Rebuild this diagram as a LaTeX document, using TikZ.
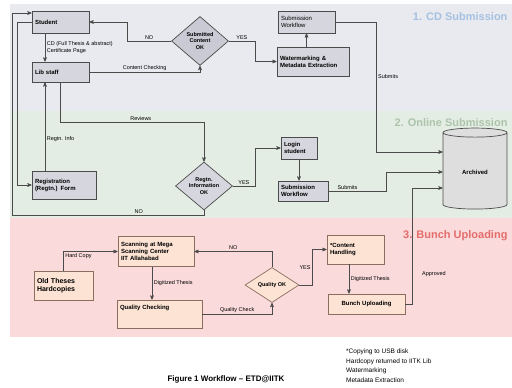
\documentclass[tikz,border=0pt]{standalone}
\usepackage{fontspec}
\setmainfont{Liberation Sans}
\usepackage{tikz}
\usetikzlibrary{arrows,shapes.geometric,positioning}
\definecolor{bandcd}{RGB}{233,234,239}
\definecolor{bandon}{RGB}{228,237,228}
\definecolor{bandbu}{RGB}{250,218,218}
\definecolor{greyfill}{RGB}{214,214,222}
\definecolor{diafill}{RGB}{202,202,212}
\definecolor{peachfill}{RGB}{252,227,212}
\definecolor{peachline}{RGB}{140,110,95}
\definecolor{cylfill}{RGB}{222,222,222}
\definecolor{lineclr}{RGB}{75,75,75}
\definecolor{titlecd}{RGB}{165,193,226}
\definecolor{titleon}{RGB}{172,196,172}
\definecolor{titlebu}{RGB}{228,108,108}
\tikzset{
	gbox/.style = {draw=lineclr, fill=greyfill, line width=.7pt, align=left,
		inner sep=3pt, font=\bfseries\fontsize{6}{7}\selectfont},
	pbox/.style = {gbox, fill=peachfill, draw=peachline},
	dia/.style = {diamond, draw=lineclr, fill=diafill, line width=.7pt,
		align=center, inner sep=0pt, font=\bfseries\fontsize{5.5}{6.5}\selectfont},
	archive/.style = {cylinder, shape border rotate=90, aspect=0.28,
		draw=lineclr, fill=cylfill, line width=.7pt, minimum width=64pt,
		minimum height=81pt, font=\bfseries\fontsize{6}{7}\selectfont},
	lbl/.style = {font=\fontsize{5.5}{6.5}\selectfont, inner sep=1.5pt},
	ttl/.style = {anchor=east, font=\bfseries\fontsize{11}{13}\selectfont},
	flowline/.style = {draw=lineclr, line width=.6pt}
}
\begin{document}
\begin{tikzpicture}[->,>=stealth',x=1pt,y=-1pt]
\useasboundingbox (0,0) rectangle (512,388);
\fill[bandcd] (10,4) rectangle (512,111);
\fill[bandon] (10,111) rectangle (512,218);
\fill[bandbu] (10,218) rectangle (512,337);
\node[ttl, titlecd] (cdtitle) at (511,17) {1. CD Submission};
\node[ttl, titleon] (ontitle) at (511,123) {2. Online Submission};
\node[ttl, titlebu] (butitle) at (511,236) {3. Bunch Uploading};

% 1. CD submission
\node[gbox, text width=51pt, minimum height=22pt] (student) at (60.5,22) {Student};
\node[gbox, text width=51pt, minimum height=20pt] (libstaff) at (60.5,72) {Lib staff};
\node[dia, minimum width=57pt, minimum height=49pt] (subok) at (200,41) {Submitted\\Content\\OK};
\node[gbox, text width=51pt, minimum height=22pt, font=\fontsize{6}{7}\selectfont] (subwf) at (306.5,22) {Submission\\Workflow};
\node[gbox, text width=66pt, minimum height=29pt] (water) at (313,61.5) {Watermarking \&\\Metadata Extraction};

% 2. online submission
\node[gbox, text width=58pt, minimum height=28pt] (regform) at (64,185) {Registration\\(Regtn.) Form};
\node[dia, fill=greyfill, minimum width=57pt, minimum height=48pt] (regok) at (204,186) {Regtn.\\Information\\OK};
\node[gbox, text width=30pt, minimum height=22pt] (login) at (299,148) {Login\\student};
\node[gbox, text width=44pt, minimum height=20pt] (onlinewf) at (303,191) {Submission\\Workflow};
\node[archive] (archived) at (475,172) {Archived};

% 3. bunch uploading
\node[pbox, text width=70pt, minimum height=30pt] (scan) at (156,251.5) {Scanning at Mega\\Scanning Center\\IIT Allahabad};
\node[pbox, text width=53pt, minimum height=29pt, font=\bfseries\fontsize{7}{8}\selectfont] (oldthes) at (63.5,285.5) {Old Theses\\Hardcopies};
\node[pbox, text width=79pt, minimum height=28pt, text depth=13pt] (qcheck) at (159.5,314) {Quality Checking};
\node[dia, fill=peachfill, draw=peachline, aspect=1.8, minimum width=54pt, minimum height=35pt] (qok) at (272,285) {Quality OK};
\node[pbox, text width=51pt, minimum height=29pt] (content) at (355.5,249.5) {*Content\\Handling};
\node[pbox, text width=71pt, minimum height=20pt, align=center] (bunch) at (366.5,304) {Bunch Uploading};

\node[font=\bfseries\fontsize{8}{9}\selectfont] (caption) at (226,379) {Figure 1 Workflow -- ETD@IITK};
\node[anchor=north west, align=left, inner sep=0pt, font=\fontsize{6.5}{9.5}\selectfont] (note) at (346,349)
	{*Copying to USB disk\\Hardcopy returned to IITK Lib\\Watermarking\\Metadata Extraction};

\coordinate (nocorner) at (12,13);
\draw[flowline] (student.west) -- ++(-14,0) |- (regform.west);
\draw[flowline] (regok.south) -- ++(0,5) -| node[lbl, pos=0.17, above] {NO} (nocorner) -- ([yshift=9pt]student.west);
\draw[flowline] ([xshift=-15.5pt]student.south) -- node[lbl, right, align=left] {CD (Full Thesis \& abstract)\\Certificate Page} ([xshift=-15.5pt]libstaff.north);
\draw[flowline] (libstaff.east) -| node[lbl, pos=0.25, above] {Content Checking} (subok.south);
\draw[flowline] (subok.west) -- node[lbl, above] {NO} ++(-44,0) |- (student.east);
\draw[flowline] (subok.east) -- node[lbl, above] {YES} ++(26,0) |- (water.west);
\draw[flowline] (water.north -| subwf.south) -- (subwf.south);
\draw[flowline] (subwf.east) -- ++(41,0) |- node[lbl, pos=0.21, right] {Submits} ([yshift=20pt]archived.west);
\draw[flowline] (libstaff.south) -- ++(0,40) -| node[lbl, pos=0.28, above] {Reviews} (regok.north);
\draw[flowline] ([xshift=-19pt]regform.north) -- node[lbl, pos=0.36, right] {Regtn. Info} ([xshift=-19pt]regform.north |- libstaff.south);
\draw[flowline] (regok.east) -- node[lbl, above] {YES} ++(22,0) |- (login.west);
\draw[flowline] (login.south) -- (login.south |- onlinewf.north);
\draw[flowline] (onlinewf.east) -- node[lbl, pos=0.33, above] {Submits} ++(58,0) |- (archived.west);
\draw[flowline] (bunch.east) -- ++(7,0) |- node[lbl, pos=0.13, right=8pt] {Approved} ([yshift=-16pt]archived.west);
\draw[flowline] (oldthes.north) |- node[lbl, pos=0.5, anchor=north west] {Hard Copy} (scan.west);
\draw[flowline] ([xshift=-4pt]scan.south) -- node[lbl, right] {Digitized Thesis} ([xshift=-4pt]scan.south |- qcheck.north);
\draw[flowline] (qcheck.east) -| node[lbl, pos=0.25, above] {Quality Check} (qok.south);
\draw[flowline] (qok.north) |- node[lbl, pos=0.75, above] {NO} (scan.east);
\draw[flowline] (qok.east) -- ++(13,0) |- node[lbl, pos=0.25, left] {YES} (content.west);
\draw[flowline] ([xshift=-6.5pt]content.south) -- node[lbl, right] {Digitized Thesis} ([xshift=-6.5pt]content.south |- bunch.north);
\end{tikzpicture}
\end{document}
